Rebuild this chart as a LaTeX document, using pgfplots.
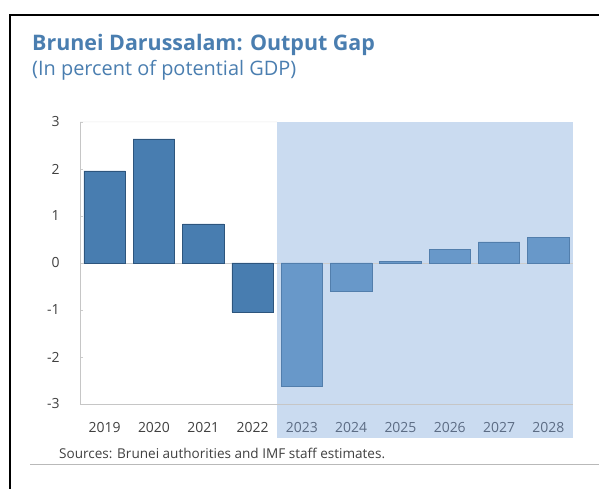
\documentclass[border=0pt]{standalone}
\usepackage{pgfplots}
\pgfplotsset{compat=1.18}
\usepackage{fontspec}
\setmainfont{Open Sans}
\usetikzlibrary{calc}
\pgfdeclarelayer{back}
\pgfsetlayers{back,main}
\definecolor{titleblue}{RGB}{74,126,176}
\definecolor{histbar}{RGB}{72,125,176}
\definecolor{histedge}{RGB}{45,85,125}
\definecolor{projbar}{RGB}{104,152,201}
\definecolor{projedge}{RGB}{82,126,172}
\definecolor{projshade}{RGB}{202,219,240}
\definecolor{ticktext}{RGB}{64,64,64}
\definecolor{projtext}{RGB}{92,108,132}

% Output gap, percent of potential GDP (2019-2022 actual, 2023-2028 projected)
\pgfplotstableread{
x year gap
0 2019 1.96
1 2020 2.64
2 2021 0.83
3 2022 -1.04
}\histdata
\pgfplotstableread{
x year gap
4 2023 -2.62
5 2024 -0.61
6 2025 0.03
7 2026 0.29
8 2027 0.45
9 2028 0.55
}\projdata

\begin{document}
\begin{tikzpicture}
\path[use as bounding box] (0bp,0bp) rectangle (599bp,489bp);
\begin{pgfonlayer}{back}
\fill[white] (0bp,0bp) rectangle (599bp,489bp);
\end{pgfonlayer}
\draw[black, line width=2bp] (10bp,0bp) -- (10bp,474bp) -- (600bp,474bp);

\node[anchor=base west, inner sep=0, text=titleblue,
      font=\fontsize{21.5}{25}\selectfont\bfseries] at (32bp,438bp) {Brunei Darussalam: Output Gap};
\node[anchor=base west, inner sep=0, text=titleblue,
      font=\fontsize{20}{24}\selectfont] at (32bp,413bp) {(In percent of potential GDP)};

\begin{axis}[
  name=ax,
  at={(80bp,85bp)}, anchor=south west,
  scale only axis, width=493bp, height=282bp,
  clip=false,
  xmin=-0.5, xmax=9.5, ymin=-3, ymax=3,
  axis x line*=bottom, axis y line*=left,
  axis line style={draw=gray!45, line width=0.6bp},
  xtick={0,...,9},
  xticklabels={2019,2020,2021,2022,
    \textcolor{projtext}{2023},\textcolor{projtext}{2024},\textcolor{projtext}{2025},
    \textcolor{projtext}{2026},\textcolor{projtext}{2027},\textcolor{projtext}{2028}},
  x tick style={draw=none},
  xticklabel style={font=\fontsize{14}{16}\selectfont, text=ticktext, yshift=-15bp},
  ytick={-3,...,3},
  yticklabels={-3,-2,-1,0,1,2,3},
  y tick style={draw=gray!40, line width=0.5bp},
  major tick length=3bp, tick align=inside,
  yticklabel style={font=\fontsize{14}{16}\selectfont, text=ticktext, xshift=-17bp},
]
\addplot[ybar, bar width=0.84, bar shift=0pt, fill=histbar, draw=histedge, line width=0.6bp]
  table[x=x, y=gap] {\histdata};
\addplot[ybar, bar width=0.84, bar shift=0pt, fill=projbar, draw=projedge, line width=0.6bp]
  table[x=x, y=gap] {\projdata};
\end{axis}

% projection period shading, zero line and faint top edge behind the bars
\begin{pgfonlayer}{back}
  \fill[projshade] ($(ax.north west)!0.4!(ax.north east)$) rectangle ([yshift=-34bp]ax.south east);
  \draw[gray!15, line width=0.5bp] (ax.north west) -- ($(ax.north west)!0.4!(ax.north east)$);
  \draw[gray!40, line width=0.5bp] (ax.west) -- (ax.east);
\end{pgfonlayer}

\node[anchor=base west, inner sep=0, text=ticktext,
      font=\fontsize{13.6}{16}\selectfont] at (59bp,31bp) {Sources: Brunei authorities and IMF staff estimates.};
\draw[gray!55, line width=0.7bp] (30bp,25bp) -- (599bp,25bp);
\end{tikzpicture}
\end{document}
